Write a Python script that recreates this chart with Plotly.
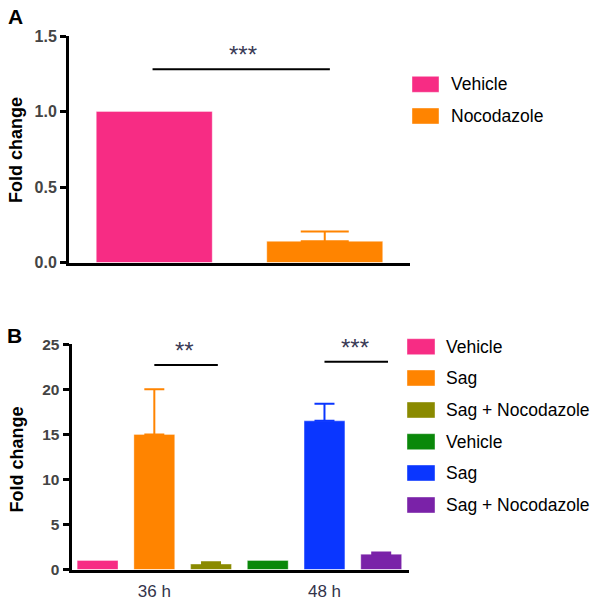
import plotly.graph_objects as go

# ---------------- data ----------------
a_labels = ["Vehicle", "Nocodazole"]
a_values = [1.0, 0.14]
a_err = [0.0, 0.065]
a_colors = ["#F72C84", "#FF8400"]
a_sig = "***"

b_labels = ["Vehicle", "Sag", "Sag + Nocodazole", "Vehicle", "Sag", "Sag + Nocodazole"]
b_values = [1.0, 15.0, 0.6, 1.0, 16.5, 1.7]
b_err = [0.0, 5.0, 0.2, 0.0, 1.9, 0.2]
b_colors = ["#F72C84", "#FF8400", "#8A8A00", "#0A880A", "#0A36FF", "#7A22A8"]
b_groups = ["36 h", "48 h"]
b_sig = ["**", "***"]

a_ticks = [0.0, 0.5, 1.0, 1.5]
b_ticks = [0, 5, 10, 15, 20, 25]

W = H = 602
FONT = "Arial, 'Liberation Sans', sans-serif"


def px(x):
    return x / W


def py(y):
    return 1 - y / H


fig = go.Figure()

# Panel A bars
for i, (lab, v, e, c) in enumerate(zip(a_labels, a_values, a_err, a_colors)):
    fig.add_trace(go.Bar(
        x=[i], y=[v], width=0.68, name=lab, xaxis="x", yaxis="y",
        marker=dict(color=c, line=dict(color="rgba(255,255,255,0.35)", width=1)),
        error_y=dict(type="data", symmetric=False, array=[e], arrayminus=[0],
                     color=c, thickness=2, width=24, visible=e > 0),
        showlegend=False, hoverinfo="skip",
    ))

# Panel B bars
for i, (lab, v, e, c) in enumerate(zip(b_labels, b_values, b_err, b_colors)):
    fig.add_trace(go.Bar(
        x=[i], y=[v], width=0.72, name=lab, xaxis="x2", yaxis="y2",
        marker=dict(color=c, line=dict(color="rgba(255,255,255,0.35)", width=1)),
        error_y=dict(type="data", symmetric=False, array=[e], arrayminus=[0],
                     color=c, thickness=2, width=10, visible=e > 0),
        showlegend=False, hoverinfo="skip",
    ))

fig.update_layout(
    template="none",
    width=W, height=H,
    autosize=False,
    margin=dict(l=0, r=0, t=0, b=0, pad=0),
    paper_bgcolor="white", plot_bgcolor="white",
    font=dict(family=FONT),
    barmode="overlay",
    xaxis=dict(domain=[px(69), px(410)], range=[-0.5, 1.5], showline=True,
               linecolor="black", linewidth=3, showticklabels=False, ticks="",
               showgrid=False, zeroline=False, anchor="y", automargin=False),
    yaxis=dict(domain=[py(262.5), py(36)], range=[0, 1.5], showline=True,
               linecolor="black", linewidth=3, tickvals=a_ticks,
               ticktext=[f"{t:.1f}" for t in a_ticks], ticks="outside",
               ticklen=6, tickwidth=3, tickcolor="black",
               tickfont=dict(family=FONT, size=16, color="#444444", weight="bold"),
               showgrid=False, zeroline=False, anchor="x", automargin=False),
    xaxis2=dict(domain=[px(71.5), px(409)], range=[-0.46, 5.49], showline=True,
                linecolor="black", linewidth=3, tickvals=[1, 4],
                ticktext=b_groups, ticks="", showgrid=False, zeroline=False,
                tickfont=dict(family=FONT, size=17, color="#33334a"),
                ticklabelstandoff=4, anchor="y2", automargin=False),
    yaxis2=dict(domain=[py(569.5), py(344.3)], range=[0, 25], showline=True,
                linecolor="black", linewidth=3, tickvals=b_ticks,
                ticktext=[str(t) for t in b_ticks], ticks="outside",
                ticklen=6, tickwidth=3, tickcolor="black",
                tickfont=dict(family=FONT, size=15.5, color="#444444", weight="bold"),
                showgrid=False, zeroline=False, anchor="x2", automargin=False),
)

shapes = []
annotations = []
STAR = dict(family=FONT, size=24, color="#3a3a55")

# significance A
ya = 1.28
shapes.append(dict(type="line", xref="x", yref="y", x0=-0.01, x1=1.03, y0=ya, y1=ya,
                   line=dict(color="black", width=2)))
annotations.append(dict(xref="x", yref="y", x=0.52, y=ya, yanchor="bottom", yshift=-1,
                        text=a_sig, showarrow=False, font=STAR))

# significance B
b_lines = [(1.0, 2.12, 22.7), (4.0, 5.12, 23.06)]
for (x0, x1, yv), s in zip(b_lines, b_sig):
    shapes.append(dict(type="line", xref="x2", yref="y2", x0=x0, x1=x1, y0=yv, y1=yv,
                       line=dict(color="black", width=2)))
    annotations.append(dict(xref="x2", yref="y2", x=(x0 + x1) / 2 - 0.03, y=yv,
                            yanchor="bottom", yshift=-1, text=s, showarrow=False, font=STAR))

# panel labels
annotations.append(dict(xref="paper", yref="paper", x=px(15.5), y=py(16.5), xanchor="center",
                        yanchor="middle", text="<b>A</b>", showarrow=False,
                        font=dict(family=FONT, size=21, color="black")))
annotations.append(dict(xref="paper", yref="paper", x=px(14.5), y=py(335.5), xanchor="center",
                        yanchor="middle", text="<b>B</b>", showarrow=False,
                        font=dict(family=FONT, size=21, color="black")))

# axis titles
for yc in (150, 459.5):
    annotations.append(dict(xref="paper", yref="paper", x=px(16), y=py(yc), xanchor="center",
                            yanchor="middle", text="<b>Fold change</b>", textangle=-90,
                            showarrow=False, font=dict(family=FONT, size=18, color="black")))

# custom legends
def legend(labels, colors, x0, x1, tx, ycs):
    for lab, c, yc in zip(labels, colors, ycs):
        shapes.append(dict(type="rect", xref="paper", yref="paper",
                           x0=px(x0), x1=px(x1), y0=py(yc + 8), y1=py(yc - 8),
                           fillcolor=c, line=dict(color="rgba(255,255,255,0.4)", width=1)))
        annotations.append(dict(xref="paper", yref="paper", x=px(tx), y=py(yc),
                                xanchor="left", yanchor="middle", text=lab, showarrow=False,
                                font=dict(family=FONT, size=17.5, color="black")))

legend(a_labels, a_colors, 412, 439, 449, [84.3, 116])
legend(b_labels, b_colors, 407, 435, 444, [346.7, 378, 410, 441.7, 473, 505])

fig.update_layout(shapes=shapes, annotations=annotations)

fig.write_html("out.html", config={"displayModeBar": False},
               post_script="document.body.style.margin='0';document.body.style.padding='0';")
